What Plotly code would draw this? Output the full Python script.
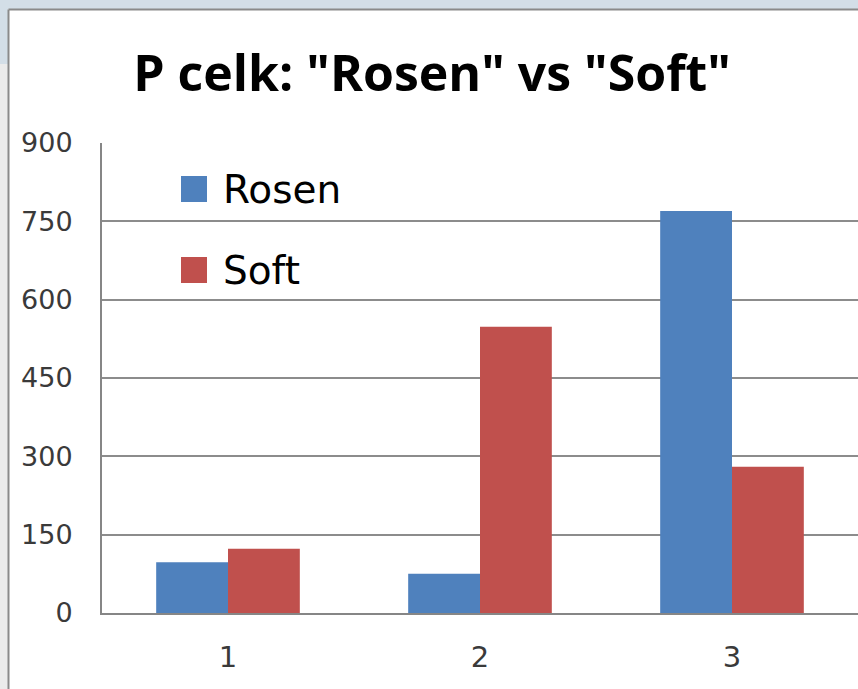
import plotly.graph_objects as go

categories = ["1", "2", "3"]
series_names = ["Rosen", "Soft"]
rosen_values = [97, 75, 770]
soft_values = [123, 548, 280]
y_tick_values = [0, 150, 300, 450, 600, 750, 900]
title_text = 'P celk: "Rosen" vs "Soft"'

colors = ["#4f81bd", "#c0504d"]

W, H = 858, 689
L, R, T, B = 102, 0, 143, 76
PW, PH = W - L - R, H - T - B


def px(x):
    return (x - L) / PW


def py(y):
    return (H - B - y) / PH


fig = go.Figure()
for name, vals, col in zip(series_names, [rosen_values, soft_values], colors):
    fig.add_trace(go.Bar(x=categories, y=vals, name=name, marker=dict(color=col, line=dict(width=0))))

shapes = []
# outer frame
band = "#d3dee7"
shapes.append(dict(type="rect", xref="paper", yref="paper", x0=px(0), x1=px(W), y0=py(9), y1=py(0),
                   fillcolor=band, line=dict(width=0), layer="above"))
shapes.append(dict(type="rect", xref="paper", yref="paper", x0=px(0), x1=px(8), y0=py(64), y1=py(9),
                   fillcolor=band, line=dict(width=0), layer="above"))
shapes.append(dict(type="rect", xref="paper", yref="paper", x0=px(0), x1=px(8), y0=py(H), y1=py(64),
                   fillcolor="#ebebeb", line=dict(width=0), layer="above"))
shapes.append(dict(type="line", xref="paper", yref="paper", x0=px(8.5), x1=px(W), y0=py(9.5), y1=py(9.5),
                   line=dict(color="#8a8a8a", width=2), layer="above"))
shapes.append(dict(type="line", xref="paper", yref="paper", x0=px(8.5), x1=px(8.5), y0=py(H), y1=py(9.5),
                   line=dict(color="#8a8a8a", width=2), layer="above"))

# custom legend
annotations = []
legend_rows = [189, 270]
for name, col, yc in zip(series_names, colors, legend_rows):
    shapes.append(dict(type="rect", xref="paper", yref="paper", x0=px(181), x1=px(207),
                       y0=py(yc + 13), y1=py(yc - 13), fillcolor=col, line=dict(width=0), layer="above"))
    annotations.append(dict(text=name, xref="paper", yref="paper", x=px(221), y=py(yc),
                            xanchor="left", yanchor="middle", showarrow=False,
                            font=dict(family="DejaVu Sans", size=39, color="#000000")))

fig.update_layout(
    width=W, height=H,
    margin=dict(l=L, r=R, t=T, b=B, pad=0),
    paper_bgcolor="white", plot_bgcolor="white",
    showlegend=False,
    barmode="group", bargap=0.43, bargroupgap=0,
    title=dict(text=title_text, x=432 / W, xanchor="center", xref="container",
               y=1 - 73 / H, yanchor="middle", yref="container",
               font=dict(family="Open Sans", size=50, color="#000000", weight="bold")),
    xaxis=dict(type="category", range=[-0.5, 2.5], showgrid=False, showline=True,
               linecolor="#868686", linewidth=2, ticks="", ticklabelstandoff=17,
               tickfont=dict(family="DejaVu Sans", size=29, color="#3a3a3a")),
    yaxis=dict(range=[0, 900], tickvals=y_tick_values, showgrid=True, gridcolor="#8c8c8c",
               gridwidth=1.5, showline=True, linecolor="#868686", linewidth=2, zeroline=False,
               ticks="", ticklabelstandoff=22,
               tickfont=dict(family="DejaVu Sans", size=27, color="#3a3a3a")),
    shapes=shapes,
    annotations=annotations,
)

fig.write_html(
    "out.html",
    config={"displayModeBar": False},
    post_script="document.body.style.margin='0';document.body.style.overflow='hidden';",
)
